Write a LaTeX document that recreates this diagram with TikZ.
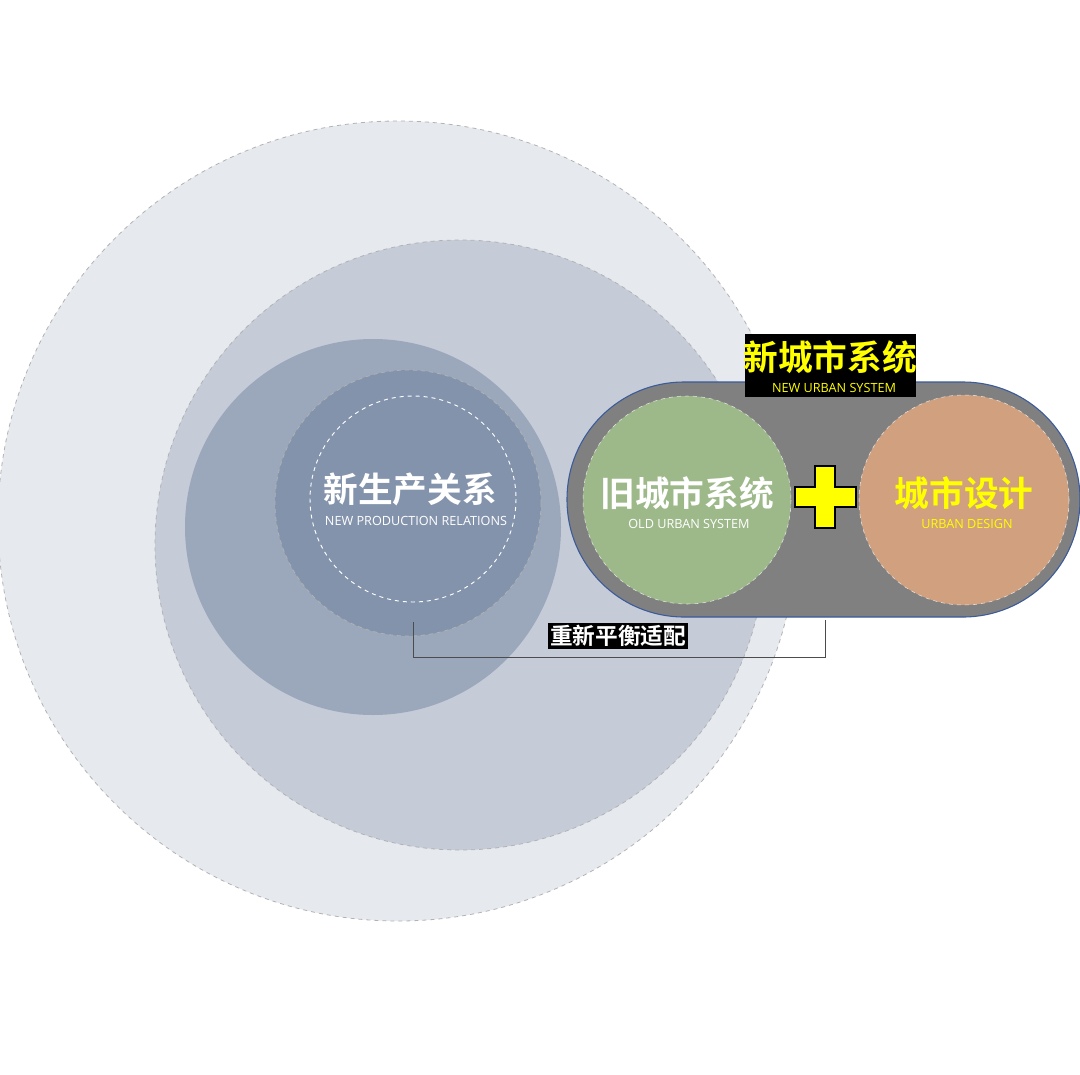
\documentclass[tikz,border=0pt]{standalone}
\usepackage{fontspec}
\setmainfont{Open Sans}
\newfontfamily\cjk{Noto Sans CJK SC}
\newfontfamily\cjkb{Noto Sans CJK SC Bold}
\definecolor{c1}{HTML}{E6E9EE}
\definecolor{c2}{HTML}{C5CCD7}
\definecolor{c3}{HTML}{9BA7BB}
\definecolor{c4}{HTML}{8493AC}
\definecolor{pill}{HTML}{808080}
\definecolor{grn}{HTML}{9DB98A}
\definecolor{org}{HTML}{D0A07F}
\definecolor{yel}{HTML}{FFFF00}
\definecolor{pb}{HTML}{3A5A9A}
\tikzset{
  dashc/.style={draw=gray!60,dashed,line width=0.6pt},
  big/.style={font=\cjkb\fontsize{26}{28}\selectfont,inner sep=0},
  small/.style={font=\fontsize{9.5}{10}\selectfont,inner sep=0},
}
\begin{document}
\begin{tikzpicture}[x=0.75pt,y=-0.75pt]
\useasboundingbox (0,0) rectangle (1080,1074);
\fill[white] (0,0) rectangle (1080,1074);
\filldraw[fill=c1,dashc] (398,521) circle (400);
\filldraw[fill=c2,dashc] (460,545) circle (305);
\fill[c3] (373,527) circle (188);
\filldraw[fill=c4,dashc] (408,503) circle (133);
\draw[white,dashed,line width=0.7pt] (413,499) circle (103);
\node[big,text=white] (np) at (410,489) {新生产关系};
\node[small,text=white] (npe) at (416,521) {NEW PRODUCTION RELATIONS};
% pill
\filldraw[fill=pill,draw=pb,line width=0.8pt,rounded corners=117*0.75pt] (567,382) rectangle (1080,617);
\filldraw[fill=grn,draw=white!80!gray,dashed] (687,500) circle (104);
\filldraw[fill=org,draw=white!80!gray,dashed] (964,500) circle (105);
\node[big,text=white] (ou) at (687,493) {旧城市系统};
\node[small,text=white] (oue) at (689,524) {OLD URBAN SYSTEM};
\node[big,text=yel] (ud) at (964,493) {城市设计};
\node[small,text=yel] (ude) at (967,524) {URBAN DESIGN};
\filldraw[fill=yel,draw=black,line width=0.8pt] (815,466)--(835,466)--(835,487)--(856,487)--(856,507)--(835,507)--(835,528)--(815,528)--(815,507)--(795,507)--(795,487)--(815,487)--cycle;
% title
\fill[black] (745,334) rectangle (916,397);
\node[big,text=yel] (nu) at (830,357) {新城市系统};
\node[small,text=yel] (nue) at (834,388) {NEW URBAN SYSTEM};
% bracket
\coordinate (a) at (413,622);
\coordinate (b) at (825,620);
\draw[black!70,line width=0.6pt] (a) -- (413,657) -- (825,657) -- (b);
\node[fill=black,text=white,font=\cjkb\fontsize{17}{19}\selectfont,inner sep=1.5pt] (rb) at (618,636) {重新平衡适配};
\end{tikzpicture}
\end{document}
